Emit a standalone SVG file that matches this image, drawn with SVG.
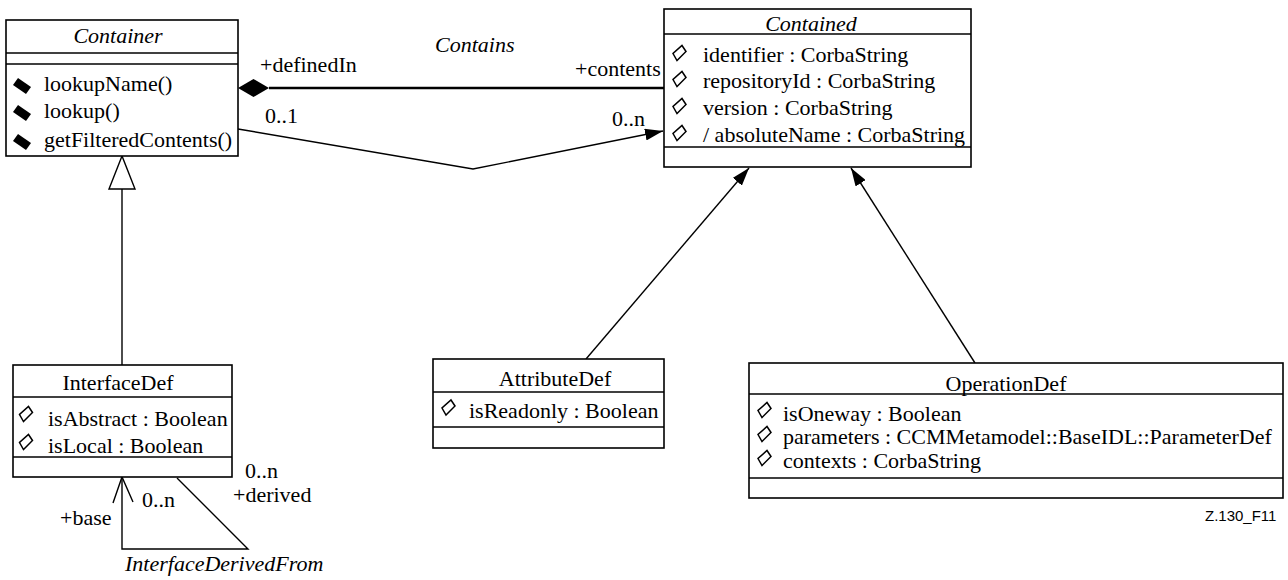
<svg xmlns="http://www.w3.org/2000/svg" width="1288" height="580" viewBox="0 0 1288 580">
<style>
text{font-family:"Liberation Serif","Times New Roman",serif;font-size:22px;fill:#000}
.it{font-style:italic}
.mid{text-anchor:middle}
.box{fill:#fff;stroke:#000;stroke-width:1.6}
.sep{stroke:#000;stroke-width:1.3;fill:none}
.ln{stroke:#000;stroke-width:1.4;fill:none}
.thick{stroke:#000;stroke-width:2.4;fill:none}
.fig{font-family:"Liberation Sans",Arial,sans-serif;font-size:15px}
</style>
<defs>
<marker id="arrF" viewBox="0 0 18 12" refX="18" refY="6" markerWidth="18" markerHeight="12" markerUnits="userSpaceOnUse" orient="auto"><path d="M0,0 L18,6 L0,12 z" fill="#000"/></marker>
<polygon id="attr" points="2.5,-7.5 6.5,-1.5 -2.5,7.5 -6.5,0.5" fill="#fff" stroke="#000" stroke-width="1.5"/>
<polygon id="op" points="-4,-8 9,1 4,8 -9,-1" fill="#000"/>
</defs>

<g id="connectors">
<polygon points="122,156 109,189 135,189" fill="#fff" stroke="#000" stroke-width="1.4"/>
<line class="ln" x1="122" y1="189" x2="122" y2="365"/>
<polygon points="238,88 253.5,79 269,88 253.5,97" fill="#000"/>
<line class="thick" x1="269" y1="88" x2="664" y2="88"/>
<polyline class="ln" points="238,129 473,169 663,131" marker-end="url(#arrF)"/>
<line class="ln" x1="586" y1="359" x2="749" y2="168" marker-end="url(#arrF)"/>
<line class="ln" x1="975" y1="363" x2="851" y2="168" marker-end="url(#arrF)"/>
<polyline class="ln" points="177,478 248,549 122,549 122,479"/>
<polyline class="ln" points="113,503 122,477 133,502"/>
<text x="260" y="72">+definedIn</text>
<text class="it" x="435" y="52">Contains</text>
<text x="575" y="76">+contents</text>
<text x="265" y="123">0..1</text>
<text x="612" y="126">0..n</text>
<text x="142" y="507">0..n</text>
<text x="60" y="525">+base</text>
<text x="245" y="478">0..n</text>
<text x="233" y="502">+derived</text>
<text class="it" x="125" y="571">InterfaceDerivedFrom</text>
</g>

<g id="Container">
<rect class="box" x="6" y="20" width="232" height="136"/>
<line class="sep" x1="6" y1="53" x2="238" y2="53"/>
<line class="sep" x1="6" y1="64" x2="238" y2="64"/>
<text class="it mid" x="118" y="43">Container</text>
<use href="#op" x="22" y="86"/>
<use href="#op" x="22" y="113"/>
<use href="#op" x="22" y="142"/>
<text x="44" y="91">lookupName()</text>
<text x="44" y="118">lookup()</text>
<text x="44" y="147">getFilteredContents()</text>
</g>

<g id="Contained">
<rect class="box" x="664" y="9" width="307" height="158"/>
<line class="sep" x1="664" y1="34" x2="971" y2="34"/>
<line class="sep" x1="664" y1="147" x2="971" y2="147"/>
<text class="it mid" x="811" y="31">Contained</text>
<use href="#attr" x="679.5" y="53"/>
<use href="#attr" x="679.5" y="79"/>
<use href="#attr" x="679.5" y="106"/>
<use href="#attr" x="679.5" y="133"/>
<text x="703" y="62">identifier : CorbaString</text>
<text x="703" y="88">repositoryId : CorbaString</text>
<text x="703" y="115">version : CorbaString</text>
<text x="703" y="142">/ absoluteName : CorbaString</text>
</g>

<g id="InterfaceDef">
<rect class="box" x="13" y="365" width="219" height="112"/>
<line class="sep" x1="13" y1="397" x2="232" y2="397"/>
<line class="sep" x1="13" y1="457" x2="232" y2="457"/>
<text class="mid" x="118" y="390">InterfaceDef</text>
<use href="#attr" x="26" y="414"/>
<use href="#attr" x="26" y="442"/>
<text x="48" y="426">isAbstract : Boolean</text>
<text x="48" y="453">isLocal : Boolean</text>
</g>

<g id="AttributeDef">
<rect class="box" x="433" y="359" width="231" height="89"/>
<line class="sep" x1="433" y1="392" x2="664" y2="392"/>
<line class="sep" x1="433" y1="427" x2="664" y2="427"/>
<text class="mid" x="555" y="386">AttributeDef</text>
<use href="#attr" x="448.5" y="407.5"/>
<text x="469" y="418">isReadonly : Boolean</text>
</g>

<g id="OperationDef">
<rect class="box" x="749" y="363" width="534" height="135"/>
<line class="sep" x1="749" y1="394" x2="1283" y2="394"/>
<line class="sep" x1="749" y1="478" x2="1283" y2="478"/>
<text class="mid" x="1006" y="391">OperationDef</text>
<use href="#attr" x="764.5" y="410"/>
<use href="#attr" x="764.5" y="434"/>
<use href="#attr" x="764.5" y="458"/>
<text x="783" y="421">isOneway : Boolean</text>
<text x="783" y="444">parameters : CCMMetamodel::BaseIDL::ParameterDef</text>
<text x="783" y="468">contexts : CorbaString</text>
</g>

<text class="fig" x="1205" y="521">Z.130_F11</text>
</svg>
